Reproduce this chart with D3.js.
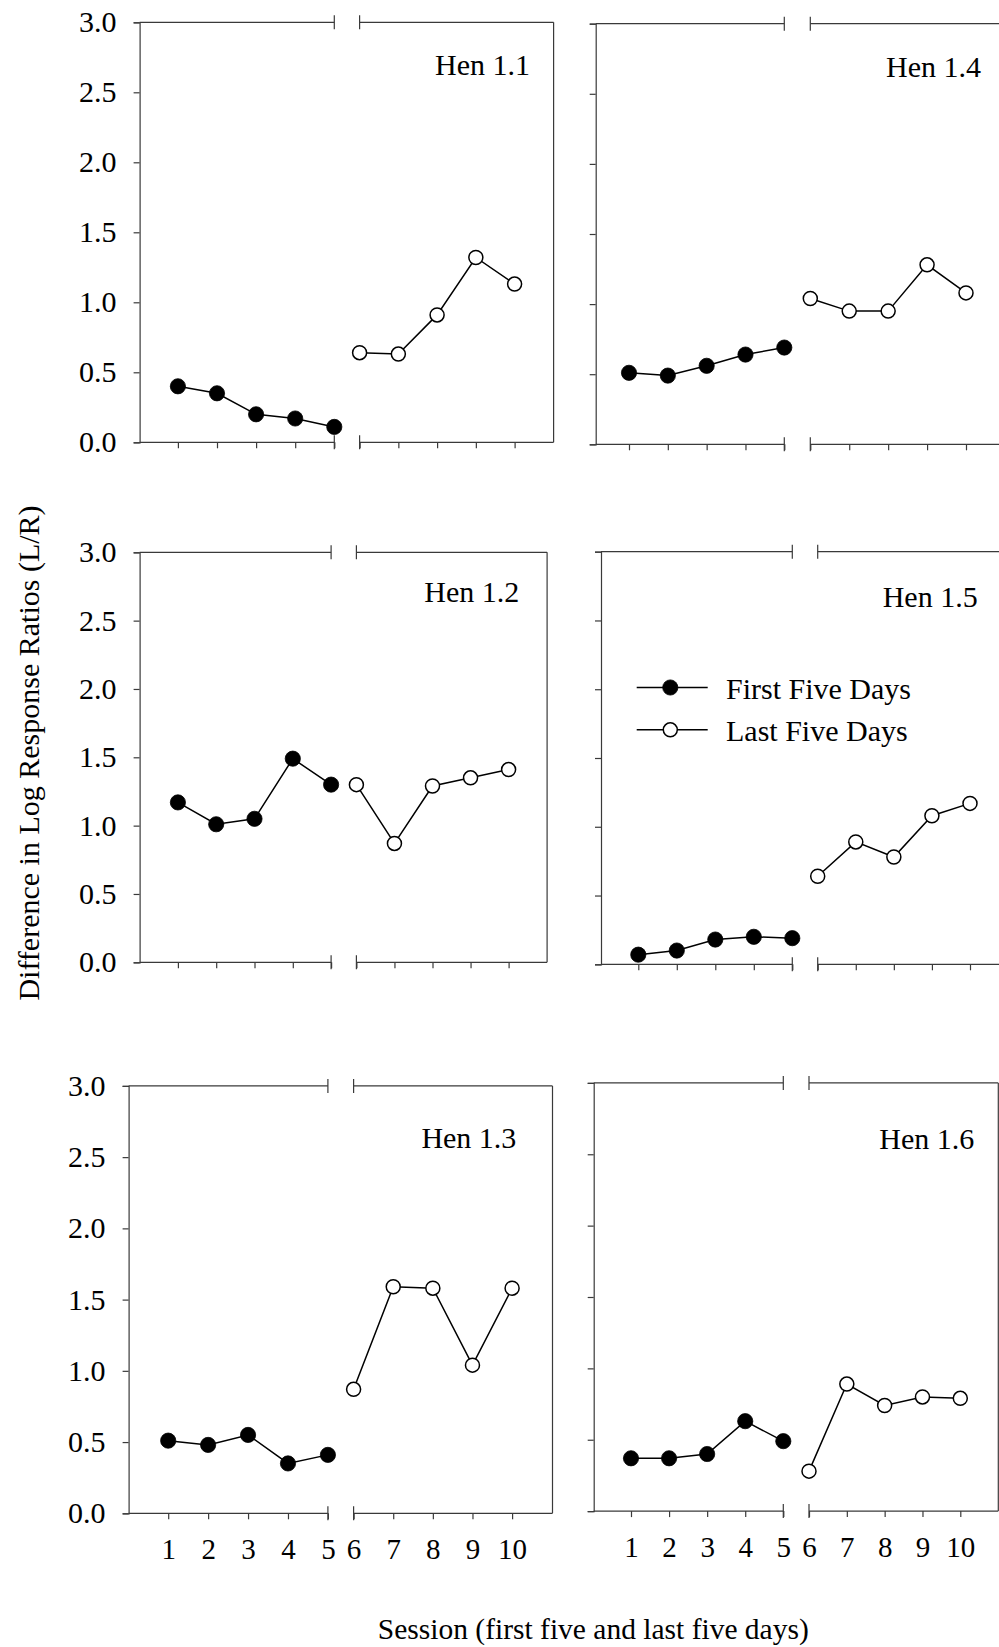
<!DOCTYPE html>
<html><head><meta charset="utf-8">
<script src="https://cdn.jsdelivr.net/npm/d3@7"></script>
<style>
body{margin:0;background:#fff}
svg{display:block;background:#fff}
text{font-family:"Liberation Serif","Times New Roman",Times,serif;fill:#000}
</style>
</head><body>
<svg id="c" width="999" height="1647"></svg>
<script>
// ---------- data ----------
const sessionsFirst = [1, 2, 3, 4, 5];
const sessionsLast = [6, 7, 8, 9, 10];
const yTickValues = [0, 0.5, 1.0, 1.5, 2.0, 2.5, 3.0];
const henNames = ["Hen 1.1", "Hen 1.4", "Hen 1.2", "Hen 1.5", "Hen 1.3", "Hen 1.6"];
const seriesNames = ["First Five Days", "Last Five Days"];
const yAxisTitle = "Difference in Log Response Ratios (L/R)";
const xAxisTitle = "Session (first five and last five days)";

const hen11First = [0.40, 0.35, 0.20, 0.17, 0.11];
const hen11Last  = [0.64, 0.63, 0.91, 1.32, 1.13];
const hen14First = [0.51, 0.49, 0.56, 0.64, 0.69];
const hen14Last  = [1.04, 0.95, 0.95, 1.28, 1.08];
const hen12First = [1.17, 1.01, 1.05, 1.49, 1.30];
const hen12Last  = [1.30, 0.87, 1.29, 1.35, 1.41];
const hen15First = [0.07, 0.10, 0.18, 0.20, 0.19];
const hen15Last  = [0.64, 0.89, 0.78, 1.08, 1.17];
const hen13First = [0.51, 0.48, 0.55, 0.35, 0.41];
const hen13Last  = [0.87, 1.59, 1.58, 1.04, 1.58];
const hen16First = [0.37, 0.37, 0.40, 0.63, 0.49];
const hen16Last  = [0.28, 0.89, 0.74, 0.80, 0.79];

const firstSeries = [hen11First, hen14First, hen12First, hen15First, hen13First, hen16First];
const lastSeries  = [hen11Last,  hen14Last,  hen12Last,  hen15Last,  hen13Last,  hen16Last];

// ---------- layout (pixel frames of each panel) ----------
const layout = [
  {left:139.6, x1:177.9, x5:334.3, x6:359.6, x10:514.6, right:553.6, top:22.3,  bottom:442.3,  lx:435,   ly:75,    yLab:true,  xLab:false},
  {left:595.7, x1:629.0, x5:784.3, x6:810.3, x10:966.0, right:1005,  top:23.7,  bottom:444.3,  lx:886,   ly:76.7,  yLab:false, xLab:false},
  {left:139.6, x1:177.9, x5:331.1, x6:356.4, x10:508.6, right:547.1, top:552.3, bottom:962.3,  lx:424.3, ly:601.7, yLab:true,  xLab:false},
  {left:601.0, x1:638.3, x5:792.3, x6:817.7, x10:970.0, right:1008,  top:551.7, bottom:964.3,  lx:882.7, ly:606.7, yLab:false, xLab:false},
  {left:128.6, x1:168.2, x5:327.9, x6:353.6, x10:512.1, right:552.5, top:1085.9,bottom:1513.3, lx:421.4, ly:1148,  yLab:true,  xLab:true},
  {left:593.7, x1:631.0, x5:783.3, x6:809.0, x10:960.3, right:998.3, top:1082.9,bottom:1511.1, lx:879.3, ly:1149.2,yLab:false, xLab:true}
];

const AX = "#3a3a3a", AXW = 1.2;
const svg = d3.select("#c");
svg.append("rect").attr("width",999).attr("height",1647).attr("fill","#fff");

layout.forEach((p, k) => {
  const g = svg.append("g");
  const xF = d3.scaleLinear().domain([1,5]).range([p.x1, p.x5]);
  const xL = d3.scaleLinear().domain([6,10]).range([p.x6, p.x10]);
  const y  = d3.scaleLinear().domain([0,3]).range([p.bottom, p.top]);

  // left y axis
  const ya = g.append("g").attr("transform",`translate(${p.left},0)`)
    .call(d3.axisLeft(y).tickValues(yTickValues).tickSize(6).tickPadding(17)
      .tickFormat(p.yLab ? d3.format(".1f") : () => ""));
  ya.selectAll("path,line").attr("stroke",AX).attr("stroke-width",AXW);
  ya.selectAll("text").attr("font-size",30).attr("font-family",null).attr("fill","#000");

  // bottom x ticks
  const fmt = p.xLab ? d3.format("d") : () => "";
  [[xF, sessionsFirst],[xL, sessionsLast]].forEach(([sc, vals]) => {
    const xa = g.append("g").attr("transform",`translate(0,${p.bottom})`)
      .call(d3.axisBottom(sc).tickValues(vals).tickSizeInner(6).tickSizeOuter(0).tickPadding(19).tickFormat(fmt));
    xa.select(".domain").remove();
    xa.selectAll("line").attr("stroke",AX).attr("stroke-width",AXW);
    xa.selectAll("text").attr("font-size",29).attr("font-family",null).attr("fill","#000");
  });

  // frame with break
  const seg = (x1,y1,x2,y2) => g.append("line").attr("x1",x1).attr("y1",y1).attr("x2",x2).attr("y2",y2)
      .attr("stroke",AX).attr("stroke-width",AXW);
  [y(0), y(3)].forEach(yy => {
    seg(p.left, yy, xF(5), yy);
    seg(xL(6), yy, p.right, yy);
    seg(xF(5), yy-7, xF(5), yy+7);
    seg(xL(6), yy-7, xL(6), yy+7);
  });
  seg(p.right, y(3), p.right, y(0));

  // series
  const lineF = d3.line().x((d,i)=>xF(sessionsFirst[i])).y(d=>y(d));
  const lineL = d3.line().x((d,i)=>xL(sessionsLast[i])).y(d=>y(d));
  g.append("path").attr("d", lineF(firstSeries[k])).attr("fill","none").attr("stroke","#000").attr("stroke-width",1.5);
  g.append("path").attr("d", lineL(lastSeries[k])).attr("fill","none").attr("stroke","#000").attr("stroke-width",1.5);
  g.selectAll(".pf").data(firstSeries[k]).enter().append("circle")
    .attr("cx",(d,i)=>xF(sessionsFirst[i])).attr("cy",d=>y(d)).attr("r",7.6)
    .attr("fill","#000").attr("stroke","#000").attr("stroke-width",0.8);
  g.selectAll(".pl").data(lastSeries[k]).enter().append("circle")
    .attr("cx",(d,i)=>xL(sessionsLast[i])).attr("cy",d=>y(d)).attr("r",7)
    .attr("fill","#fff").attr("stroke","#000").attr("stroke-width",1.5);

  // hen label
  g.append("text").attr("x",p.lx).attr("y",p.ly).attr("font-size",30).text(henNames[k]);
});

// legend (inside Hen 1.5 panel)
const legendRows = [
  {y:687.5, fill:"#000", r:7.6, sw:0.8, ty:698.5},
  {y:729.8, fill:"#fff", r:7,   sw:1.5, ty:740.5}
];
legendRows.forEach((r, i) => {
  svg.append("line").attr("x1",636.7).attr("x2",707.7).attr("y1",r.y).attr("y2",r.y)
    .attr("stroke","#000").attr("stroke-width",1.5);
  svg.append("circle").attr("cx",670.3).attr("cy",r.y).attr("r",r.r)
    .attr("fill",r.fill).attr("stroke","#000").attr("stroke-width",r.sw);
  svg.append("text").attr("x",726).attr("y",r.ty).attr("font-size",30).text(seriesNames[i]);
});

// axis titles
svg.append("text").attr("transform","translate(39,753) rotate(-90)")
  .attr("text-anchor","middle").attr("font-size",30).text(yAxisTitle);
svg.append("text").attr("x",593.3).attr("y",1639)
  .attr("text-anchor","middle").attr("font-size",29.5).text(xAxisTitle);
</script>
</body></html>
